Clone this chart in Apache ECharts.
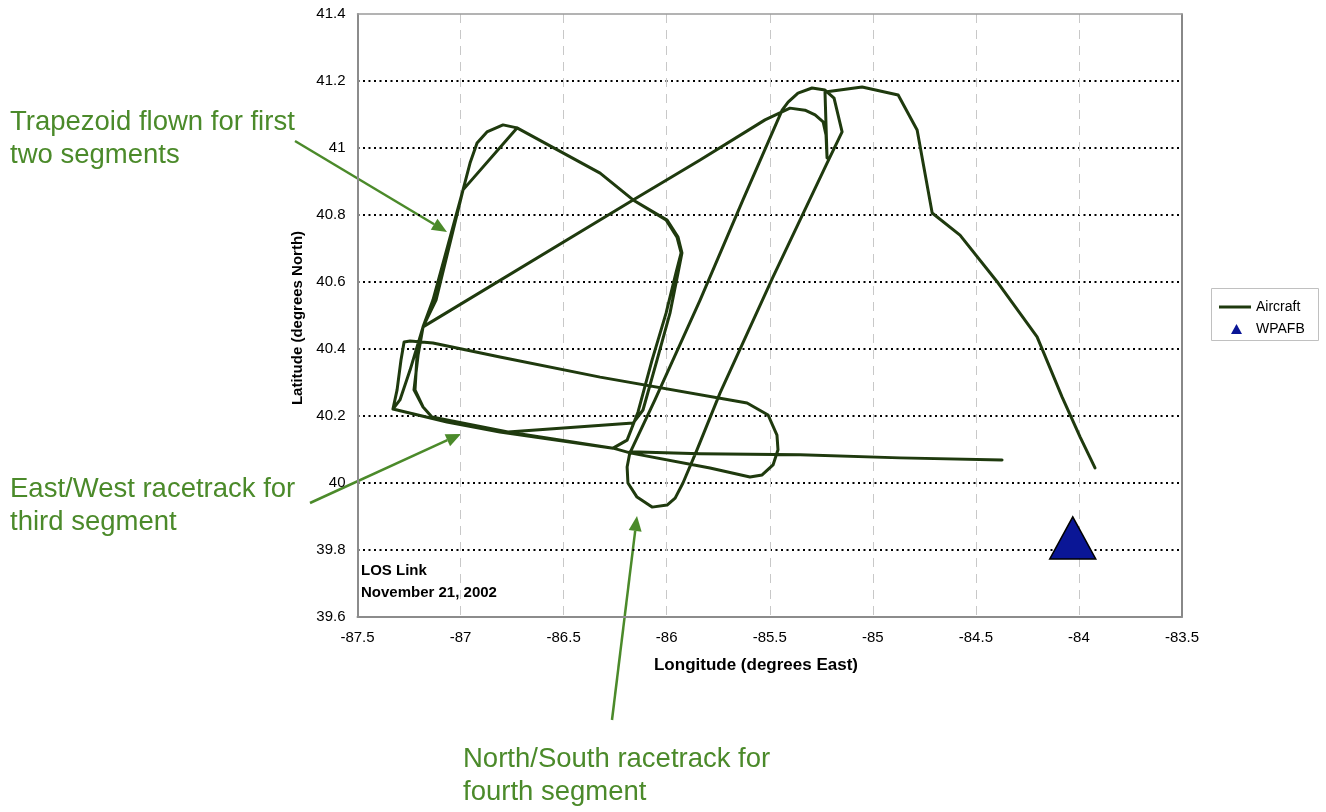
<!DOCTYPE html>
<html><head><meta charset="utf-8">
<script src="https://cdn.jsdelivr.net/npm/echarts@6.0.0/dist/echarts.min.js"></script>
<style>html,body{margin:0;padding:0;background:#fff}#chart{width:1326px;height:812px}</style>
</head><body><div id="chart"></div>
<script>
// ---- data (longitude, latitude) ----
const ingressLeg = [
  [-83.922,40.045],[-83.994,40.137],[-84.082,40.257],[-84.203,40.436],[-84.392,40.597],
  [-84.577,40.740],[-84.712,40.806],[-84.785,41.054],[-84.877,41.158],[-85.052,41.182],
  [-85.232,41.167],[-85.222,40.970],[-85.227,41.039],[-85.241,41.078],[-85.280,41.099],
  [-85.329,41.113],[-85.402,41.119],[-85.523,41.084],[-85.838,40.964],[-86.163,40.845],
  [-87.182,40.466]
];
const trapezoidLap1 = [
  [-87.211,40.382],[-87.221,40.278],[-87.182,40.227],[-87.139,40.197],[-86.954,40.173],
  [-86.770,40.152],[-86.163,40.179],[-86.115,40.218],[-86.047,40.367],[-85.984,40.507],
  [-85.945,40.627],[-85.926,40.687],[-85.945,40.734],[-85.998,40.785],[-86.163,40.845],
  [-86.323,40.925],[-86.726,41.060],[-86.794,41.069],[-86.872,41.048],[-86.920,41.015],
  [-86.954,40.955],[-86.988,40.875],[-87.134,40.546],[-87.182,40.466]
];
const trapezoidLap2 = [
  [-87.206,40.382],[-87.226,40.278],[-87.182,40.227],[-87.139,40.197],[-86.770,40.152],
  [-86.260,40.104],[-86.192,40.128],[-86.139,40.212],[-86.071,40.367],[-86.003,40.507],
  [-85.955,40.627],[-85.930,40.687],[-85.950,40.734],[-86.003,40.785],[-86.163,40.845],
  [-86.323,40.925],[-86.726,41.060],[-86.988,40.875],[-87.119,40.546],[-87.182,40.466],
  [-87.245,40.337],[-87.294,40.248],[-87.328,40.221]
];
const eastWestLeg = [
  [-87.066,40.182],[-86.809,40.152],[-86.260,40.104],[-86.178,40.090],[-85.790,40.045],
  [-85.596,40.018],[-85.537,40.024],[-85.484,40.054],[-85.460,40.099],[-85.465,40.143],
  [-85.508,40.203],[-85.610,40.239],[-86.323,40.316],[-86.809,40.376],[-87.134,40.418],
  [-87.245,40.424],[-87.274,40.421],[-87.289,40.367],[-87.308,40.278],[-87.328,40.221],
  [-87.066,40.182],[-86.809,40.152],[-86.260,40.104],[-86.178,40.090]
];
const northSouthLeg = [
  [-86.057,40.248],[-85.838,40.546],[-85.630,40.845],[-85.440,41.113],[-85.411,41.137],
  [-85.363,41.164],[-85.295,41.179],[-85.232,41.173],[-85.188,41.149],[-85.149,41.048],
  [-85.222,40.955],[-85.484,40.615],[-85.741,40.269],[-85.853,40.099],[-85.921,40.000],
  [-85.959,39.955],[-85.998,39.934],[-86.071,39.928],[-86.144,39.958],[-86.188,40.000],
  [-86.192,40.048],[-86.178,40.093]
];
const egressLeg = [
  [-85.838,40.087],[-85.353,40.084],[-84.868,40.075],[-84.373,40.069]
];
const wpafbPoint = [[-84.03,39.836]];

const seriesNames = ['Aircraft','WPAFB'];
const xRange = {min:-87.5, max:-83.5, step:0.5};
const yRange = {min:39.6, max:41.4, step:0.2};
const xTitle = 'Longitude (degrees East)';
const yTitle = 'Latitude (degrees North)';
const noteLines = ['LOS Link','November 21, 2002'];
const callouts = [
  ['Trapezoid flown for first','two segments'],
  ['East/West racetrack for','third segment'],
  ['North/South racetrack for','fourth segment']
];

const aircraftPath = [].concat(ingressLeg, trapezoidLap1, trapezoidLap2, eastWestLeg, northSouthLeg, egressLeg);

const GREEN = '#4b8a2a';
const LINE = '#1f3a0e';
const NAVY = '#0a1696';
const FONT = '"Liberation Sans", Arial, sans-serif';

function arrow(x1,y1,x2,y2){
  const a = Math.atan2(y2-y1,x2-x1), L=15, W=6.5;
  const bx = x2 - L*Math.cos(a), by = y2 - L*Math.sin(a);
  return [
    {type:'line', shape:{x1:x1,y1:y1,x2:bx,y2:by}, style:{stroke:GREEN, lineWidth:2.5}},
    {type:'polygon', shape:{points:[[x2,y2],[bx+W*Math.sin(a),by-W*Math.cos(a)],[bx-W*Math.sin(a),by+W*Math.cos(a)]]}, style:{fill:GREEN}}
  ];
}
function calloutText(x,y,lines){
  return lines.map((t,i)=>({type:'text', left:x, top:y+i*33, style:{text:t, fill:GREEN, font:'27.5px '+FONT}}));
}

const chart = echarts.init(document.getElementById('chart'));
chart.setOption({
  animation:false,
  backgroundColor:'#fff',
  grid:{left:357.5, top:14, right:144, bottom:195, containLabel:false},
  legend:[
    {data:[{name:seriesNames[0], icon:'rect'}], left:1219, top:300, itemWidth:32, itemHeight:3, padding:0,
     itemStyle:{color:LINE}, textStyle:{fontFamily:FONT, fontSize:14, color:'#000', padding:[0,0,0,0]}},
    {data:[{name:seriesNames[1], icon:'triangle'}], left:1231, top:322, itemWidth:11, itemHeight:10, padding:0,
     itemStyle:{color:NAVY, borderWidth:0, opacity:1},
     textStyle:{fontFamily:FONT, fontSize:14, color:'#000', padding:[0,0,0,9]}}
  ],
  xAxis:[
    {type:'value', min:xRange.min, max:xRange.max, interval:xRange.step, position:'bottom',
     axisLine:{show:true, onZero:false, lineStyle:{color:'#8c8c8c', width:2}},
     axisTick:{show:false},
     axisLabel:{fontFamily:FONT, fontSize:15, color:'#000', margin:13},
     splitLine:{show:true, showMinLine:false, showMaxLine:false, lineStyle:{color:'#c8c8c8', width:1, type:[9,7]}}},
    {type:'value', min:xRange.min, max:xRange.max, position:'top',
     axisLine:{show:true, onZero:false, lineStyle:{color:'#9a9a9a', width:1.5}},
     axisTick:{show:false}, axisLabel:{show:false}, splitLine:{show:false}}
  ],
  yAxis:[
    {type:'value', min:yRange.min, max:yRange.max, interval:yRange.step, position:'left',
     axisLine:{show:true, onZero:false, lineStyle:{color:'#8c8c8c', width:2}},
     axisTick:{show:false},
     axisLabel:{fontFamily:FONT, fontSize:15, color:'#000', margin:12},
     splitLine:{show:true, showMinLine:false, showMaxLine:false, lineStyle:{color:'#000', width:2, type:[2,3.5]}}},
    {type:'value', min:yRange.min, max:yRange.max, position:'right',
     axisLine:{show:true, onZero:false, lineStyle:{color:'#606060', width:1.5}},
     axisTick:{show:false}, axisLabel:{show:false}, splitLine:{show:false}}
  ],
  series:[
    {name:seriesNames[0], type:'line', data:aircraftPath, symbol:'none', showSymbol:false,
     lineStyle:{color:LINE, width:3, join:'round', cap:'round'}, itemStyle:{color:LINE}, z:3},
    {name:seriesNames[1], type:'scatter', data:wpafbPoint, symbol:'triangle', symbolSize:[46,42],
     itemStyle:{color:NAVY, borderColor:'#000', borderWidth:1.5, opacity:1}, z:4}
  ],
  graphic:[].concat(
    [{type:'rect', shape:{x:1211.5, y:288.5, width:107, height:52}, style:{fill:'none', stroke:'#c0c0c0', lineWidth:1}},
     {type:'text', left:361, top:563, style:{text:noteLines[0], fill:'#000', font:'bold 15px '+FONT}},
     {type:'text', left:361, top:585, style:{text:noteLines[1], fill:'#000', font:'bold 15px '+FONT}},
     {type:'text', x:756, y:665, style:{text:xTitle, fill:'#000', font:'bold 17px '+FONT, align:'center', verticalAlign:'middle'}},
     {type:'text', x:298, y:318, rotation:Math.PI/2, style:{text:yTitle, fill:'#000', font:'bold 15px '+FONT, align:'center', verticalAlign:'middle'}}],
    calloutText(10,108,callouts[0]),
    calloutText(10,475,callouts[1]),
    calloutText(463,745,callouts[2]),
    arrow(295,141,447,232),
    arrow(310,503,461,434),
    arrow(612,720,637,516)
  )
});
</script></body></html>
